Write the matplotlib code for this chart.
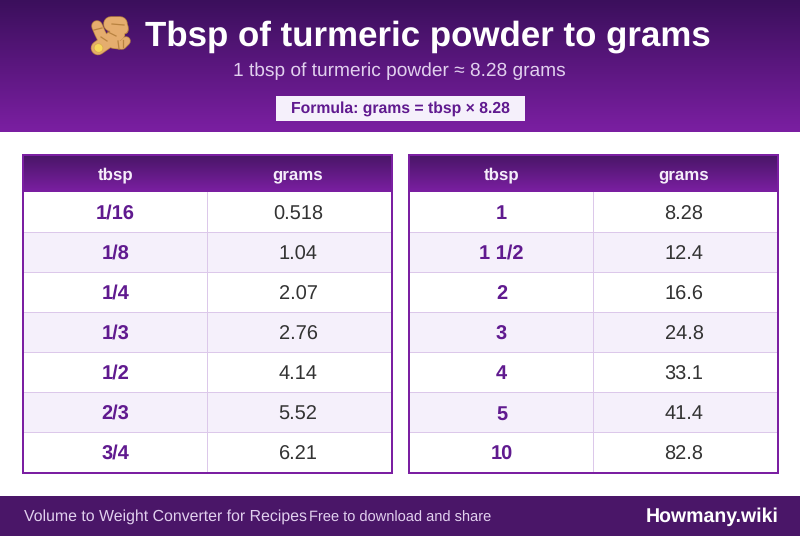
import matplotlib
matplotlib.use('Agg')
import matplotlib.pyplot as plt
from matplotlib.colors import LinearSegmentedColormap
from matplotlib.patches import Rectangle, Ellipse
import numpy as np

plt.rcParams['font.family'] = ['Liberation Sans', 'DejaVu Sans']
plt.rcParams['text.hinting'] = 'no_hinting'
plt.rcParams['text.hinting_factor'] = 8

title = "Tbsp of turmeric powder to grams"
subtitle = "1 tbsp of turmeric powder ≈ 8.28 grams"
formula = "Formula: grams = tbsp × 8.28"
footer_left = "Volume to Weight Converter for Recipes"
footer_mid = "Free to download and share"
footer_right = "Howmany.wiki"
col_names = ["tbsp", "grams"]

tbsp_left = ["1/16", "1/8", "1/4", "1/3", "1/2", "2/3", "3/4"]
grams_left = ["0.518", "1.04", "2.07", "2.76", "4.14", "5.52", "6.21"]
tbsp_right = ["1", "1 1/2", "2", "3", "4", "5", "10"]
grams_right = ["8.28", "12.4", "16.6", "24.8", "33.1", "41.4", "82.8"]

PURPLE = '#7b1fa2'
INK = '#601a8f'
LINE = '#dcc8ea'
px = 0.72  # pixel -> point at dpi 100

grad = LinearSegmentedColormap.from_list('g', ['#3b0f5c', PURPLE])
grad_head = LinearSegmentedColormap.from_list('h', ['#4a1668', PURPLE])

fig = plt.figure(figsize=(8, 5.36), dpi=100)
ax = fig.add_axes([0, 0, 1, 1])


def gradient(x0, x1, y0, y1, cmap):
    ax.imshow(np.linspace(0, 1, 256).reshape(-1, 1), extent=(x0, x1, y1, y0),
              cmap=cmap, aspect='auto', zorder=1, interpolation='bilinear')


def block(x, y, w, h, color, z=3):
    ax.add_patch(Rectangle((x, y), w, h, fc=color, ec='none', lw=0, zorder=z))


#ヘッダー
gradient(0, 800, 0, 132, grad)
ax.text(428, 46, title, color='white', fontsize=34.9*px, fontweight='bold', ha='center', va='baseline', zorder=5)
ax.text(399.5, 76, subtitle, color='#e1d0ee', fontsize=19.15*px, ha='center', va='baseline', zorder=5)
block(276, 96, 249, 25, '#f5f0fb', 4)
ax.text(400.5, 113, formula, color=INK, fontsize=15.7*px, fontweight='bold', ha='center', va='baseline', zorder=5)


#しょうがのアイコン
def ginger():
    body = '#e5ad6e'
    edge = '#b98340'
    strokes = [([97, 100, 104], [26, 33, 41], 10),
               ([98, 108, 118], [48, 41, 34], 13),
               ([111, 120], [24, 24], 14),
               ([116, 122], [30, 28], 12),
               ([113, 122, 126], [44, 45, 41], 8)]
    # 輪郭を先に描いてから中身を重ねる
    for xs, ys, w in strokes:
        ax.plot(xs, ys, color=edge, lw=(w + 1.5)*px, solid_capstyle='round', zorder=5)
    ax.add_patch(Ellipse((125, 30), 6, 7, fc=body, ec=edge, lw=0.8, zorder=5))
    for xs, ys, w in strokes:
        ax.plot(xs, ys, color=body, lw=w*px, solid_capstyle='round', zorder=6)
    ax.add_patch(Ellipse((98.5, 48), 9, 8.5, angle=30, fc='#f8d95c', ec='#d9a94e', lw=0.5, zorder=7))
    for xs, ys in [([108, 116], [32, 36]), ([112, 124], [24, 25]), ([101, 107], [37, 41]),
                   ([94, 102], [30, 28]), ([118, 119], [41, 49]), ([123, 123], [40, 47])]:
        ax.plot(xs, ys, color=edge, lw=0.9, zorder=8)


ginger()


#表を描く
def draw_table(x0, tbsp, grams):
    width = 371
    top = 154
    head = 38
    row_h = 40
    split = x0 + 185
    gradient(x0, x0 + width, top + 2, top + head, grad_head)
    for j, name in enumerate(col_names):
        cx = x0 + 93.5 if j == 0 else x0 + 276
        ax.text(cx, top + 25, name, color='#f5eefa', fontsize=16.9*px, fontweight='bold', ha='center', va='baseline', zorder=5)
    for i in range(len(tbsp)):
        y = top + head + i*row_h
        fc = '#f5f0fb' if i % 2 else 'white'
        block(x0, y, width, row_h, fc, 2)
        if i < len(tbsp) - 1:
            block(x0, y + row_h, width, 1, LINE)
        # スラッシュ入りは下に伸びるので基準線の丸めがずれる
        off = 27.0 if '/' in tbsp[i] else 27.3
        ax.text(x0 + 93.5, y + off, tbsp[i], color=INK, fontsize=20*px, fontweight='bold', ha='center', va='baseline', zorder=5)
        ax.text(x0 + 276, y + 27.3, grams[i], color='#333333', fontsize=20*px, ha='center', va='baseline', zorder=5)
    block(split, top + head, 1, 7*row_h, LINE)
    # 枠線
    block(x0, top, width, 2, PURPLE, 6)
    block(x0, top + head + 7*row_h, width, 2, PURPLE, 6)
    block(x0, top, 2, 320, PURPLE, 6)
    block(x0 + width - 2, top, 2, 320, PURPLE, 6)


draw_table(22, tbsp_left, grams_left)
draw_table(408, tbsp_right, grams_right)

#フッター
block(0, 496, 800, 40, '#4a1668', 2)
ax.text(24, 521, footer_left, color='#e1d0ee', fontsize=15.95*px, ha='left', va='baseline', zorder=5)
ax.text(309, 521.4, footer_mid, color='#e1d0ee', fontsize=14.6*px, ha='left', va='baseline', zorder=5)
ax.text(778.5, 522, footer_right, color='white', fontsize=19.55*px, fontweight='bold', ha='right', va='baseline', zorder=5)

ax.set_xlim(0, 800)
ax.set_ylim(536, 0)
ax.axis('off')

fig.savefig('out.png', dpi=100)
